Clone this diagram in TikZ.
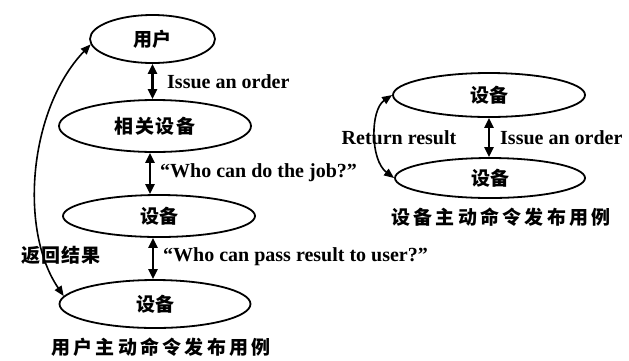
\documentclass[tikz,border=0pt]{standalone}
\usepackage{fontspec}
\setmainfont{Liberation Serif}
\newfontfamily\cjk{Noto Sans CJK SC}
\usetikzlibrary{shapes.geometric,arrows.meta}
\begin{document}
\begin{tikzpicture}[x=1pt,y=1pt,
  oval/.style={ellipse, draw, line width=1.8pt, inner sep=0pt},
  zh/.style={font=\cjk\bfseries\fontsize{19}{19}\selectfont},
  en/.style={font=\bfseries\fontsize{20}{20}\selectfont, inner sep=0pt},
  dbl/.style={{Triangle[width=9pt,length=10pt]}-{Triangle[width=9pt,length=10pt]}, line width=2.2pt},
  ret/.style={{Triangle[width=8pt,length=10pt]}-{Triangle[width=8pt,length=10pt]}, line width=1.6pt}]
\useasboundingbox (0,0) rectangle (629,-360);
% left column
\node[oval, zh, minimum width=125pt, minimum height=48pt] (u) at (152.5,-39) {\raisebox{-5pt}{用户}};
\node[oval, zh, minimum width=192pt, minimum height=52pt] (r) at (155,-126) {\raisebox{-2pt}{\addfontfeatures{LetterSpace=8}相关设备}};
\node[oval, zh, minimum width=192pt, minimum height=42pt] (d3) at (159,-216) {\raisebox{-1pt}{设备}};
\node[oval, zh, minimum width=191pt, minimum height=48pt] (d4) at (155,-304) {\raisebox{-4pt}{设备}};
\draw[dbl] (u.south) -- (r.north -| u.south);
\draw[dbl] ([xshift=-5pt]r.south) -- ([xshift=-9pt]d3.north);
\draw[dbl] ([xshift=-6pt]d3.south) -- ([xshift=-2pt]d4.north);
\node[en, anchor=west] (l1) at (167,-82) {Issue an order};
\node[en, anchor=west] (l2) at (160,-173) {“Who can do the job?”};
\node[en, anchor=west] (l3) at (163,-257) {“Who can pass result to user?”};
\draw[ret] (u.185) .. controls +(-62,-65) and +(-45,66) .. (d4.175);
\node[zh] (l4) at (61,-255) {\addfontfeatures{LetterSpace=5}返回结果};
\node[zh] (c1) at (161,-347) {\addfontfeatures{LetterSpace=17}用户主动命令发布用例};
% right column
\node[oval, zh, minimum width=192pt, minimum height=44pt] (ra) at (489,-95) {\raisebox{-4pt}{设备}};
\node[oval, zh, minimum width=190pt, minimum height=40pt] (rb) at (490,-178) {\raisebox{-4pt}{设备}};
\draw[dbl] (ra.south) -- (rb.north -| ra.south);
\node[en, anchor=west] (l5) at (500,-138) {Issue an order};
\draw[ret] (ra.180) .. controls +(-22,-15) and +(-24,18) .. (rb.180);
\node[en] (l6) at (399,-138) {Return result};
\node[zh] (c2) at (501,-217) {\addfontfeatures{LetterSpace=17}设备主动命令发布用例};
\end{tikzpicture}
\end{document}
